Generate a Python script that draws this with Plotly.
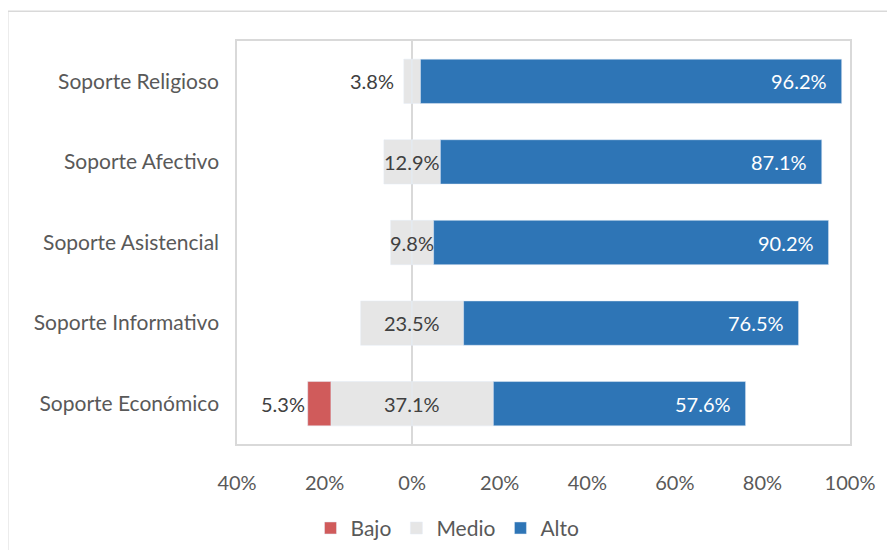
import plotly.graph_objects as go

categorias = ["Soporte Religioso", "Soporte Afectivo", "Soporte Asistencial",
              "Soporte Informativo", "Soporte Económico"]
bajo = [0.0, 0.0, 0.0, 0.0, 5.3]
medio = [3.8, 12.9, 9.8, 23.5, 37.1]
alto = [96.2, 87.1, 90.2, 76.5, 57.6]
ticks_x = [-40, -20, 0, 20, 40, 60, 80, 100]

gris_texto = "#595959"
fuente = "Lato"

fig = go.Figure()

# medio se parte en dos mitades alrededor del cero
fig.add_trace(go.Bar(y=categorias, x=[-m / 2 for m in medio], orientation="h",
                     marker_color="#e6e6e6", showlegend=False, hoverinfo="skip",
                     width=0.55))
fig.add_trace(go.Bar(y=categorias, x=[-b for b in bajo], orientation="h",
                     name="Bajo", marker_color="#d05b5b", width=0.55, legendrank=1))
fig.add_trace(go.Bar(y=categorias, x=[m / 2 for m in medio], orientation="h",
                     name="Medio", marker_color="#e6e6e6", width=0.55, legendrank=2))
fig.add_trace(go.Bar(y=categorias, x=alto, orientation="h", name="Alto",
                     marker_color="#2e75b6", width=0.55, legendrank=3))

anotaciones = []
for c, b, m, a in zip(categorias, bajo, medio, alto):
    color = "#404040"
    if m < 5:
        anotaciones.append(dict(x=-m / 2, y=c, text=f"{m:.1f}%", xanchor="right",
                                xshift=-8, showarrow=False,
                                font=dict(color=color)))
    else:
        anotaciones.append(dict(x=0, y=c, text=f"{m:.1f}%", showarrow=False,
                                font=dict(color=color)))
    if b > 0:
        anotaciones.append(dict(x=-(m / 2 + b), y=c, text=f"{b:.1f}%",
                                xanchor="right", xshift=-1, showarrow=False,
                                font=dict(color=color)))
    anotaciones.append(dict(x=m / 2 + a, y=c, text=f"{a:.1f}%", xanchor="right",
                            xshift=-13, showarrow=False,
                            font=dict(color="white")))
for an in anotaciones:
    an["font"].update(size=20, family=fuente)

fig.update_layout(
    barmode="relative",
    width=879, height=542,
    margin=dict(l=229, r=35, t=33, b=106),
    plot_bgcolor="white", paper_bgcolor="white",
    font=dict(family=fuente, size=20, color=gris_texto),
    annotations=anotaciones,
    legend=dict(orientation="h", xref="container", yref="container",
                x=0.5, xanchor="center", y=0.04, yanchor="middle",
                font=dict(size=21, color=gris_texto), itemwidth=30,
                traceorder="normal"),
    shapes=[dict(type="rect", xref="paper", yref="paper",
                 x0=-0.374, x1=1.2, y0=-0.4, y1=1.074,
                 line=dict(color="#d9d9d9", width=1.5), layer="below")],
)
fig.update_xaxes(range=[-40, 100], tickvals=ticks_x,
                 ticktext=[f"{abs(t)}%" for t in ticks_x],
                 showgrid=False, zeroline=True, zerolinecolor="#d9d9d9",
                 zerolinewidth=1.5, showline=True, mirror=True,
                 linecolor="#d9d9d9", linewidth=1.5,
                 ticks="outside", ticklen=20, tickcolor="rgba(0,0,0,0)")
fig.update_yaxes(categoryorder="array", categoryarray=categorias[::-1],
                 showgrid=False, showline=True, mirror=True,
                 linecolor="#d9d9d9", linewidth=1.5,
                 tickfont=dict(size=21),
                 ticks="outside", ticklen=12, tickcolor="rgba(0,0,0,0)")

fig.write_html("out.html")
